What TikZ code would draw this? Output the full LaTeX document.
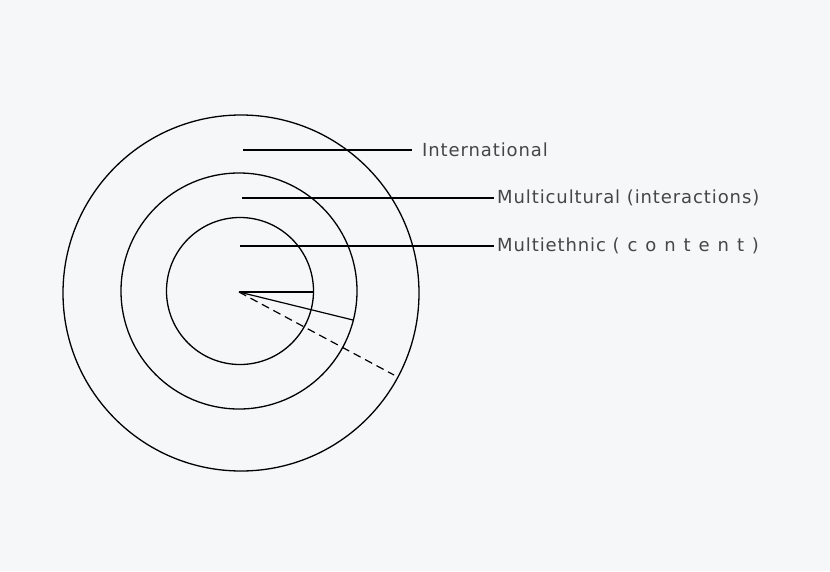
\documentclass[tikz,border=0pt]{standalone}
\usepackage{fontspec}
\setmainfont[LetterSpace=5]{DejaVu Sans}
\newfontfamily\spacedfont[LetterSpace=44]{DejaVu Sans}
\definecolor{bgcol}{RGB}{246,247,249}
\definecolor{txtcol}{RGB}{70,70,70}
\tikzset{
  ring/.style={draw=black, line width=1.3pt},
  leader/.style={draw=black, line width=1.2pt},
  radius line/.style={draw=black, line width=1.2pt},
  lbl/.style={anchor=west, inner sep=0pt, text=txtcol, font=\fontsize{18}{21}\selectfont}
}
\begin{document}
\begin{tikzpicture}[x=1pt,y=-1pt]
\fill[bgcol] (0,0) rectangle (830,571);
\useasboundingbox (0,0) rectangle (830,571);
\coordinate (c) at (239,292);
\draw[ring] (241,293) circle (178);
\draw[ring] (239,291) circle (118);
\draw[ring] (240,291) circle (73.5);
% labels
\node[lbl] (intl) at (422,150) {International};
\node[lbl] (multi) at (497,198) {Multicultural (interactions)};
\node[lbl] (eth) at (497,246) {Multiethnic {\spacedfont(content)}};
\coordinate (l1) at (243,150);
\coordinate (l2) at (242,198);
\coordinate (l3) at (240,246);
\draw[leader] (l1) -- ([xshift=-10pt]intl.west);
\draw[leader] (l2) -- ([xshift=-3pt]multi.west);
\draw[leader] (l3) -- ([xshift=-3pt]eth.west);
% radii
\coordinate (r1) at (313,292);
\coordinate (r2) at (353,320);
\coordinate (r3) at (394,375);
\draw[radius line] (c) -- (r1);
\draw[radius line] (c) -- (r2);
\draw[radius line, dash pattern=on 8pt off 5pt] (c) -- (r3);
\end{tikzpicture}
\end{document}
